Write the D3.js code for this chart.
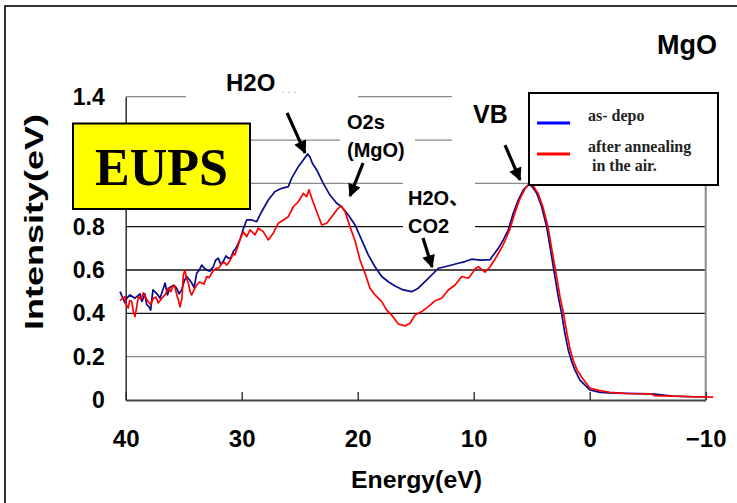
<!DOCTYPE html>
<html><head><meta charset="utf-8">
<script src="https://cdn.jsdelivr.net/npm/d3@7"></script>
<style>body{margin:0;background:#fff}svg{display:block}</style>
</head><body>
<svg id="c" width="737" height="503"></svg>
<script>
// ---------- data ----------
const blueEnergy = [40.49,40.06,39.90,39.63,39.20,38.77,38.60,38.35,38.19,37.99,37.85,37.65,37.30,37.04,36.85,36.61,36.40,36.18,35.85,35.60,35.40,35.17,34.95,34.74,34.50,34.31,34.10,33.88,33.65,33.45,33.25,33.02,32.75,32.45,32.25,32.02,31.80,31.59,31.35,31.16,30.95,30.72,30.50,30.29,30.15,29.86,29.57,29.14,28.71,28.28,27.71,27.13,26.55,25.98,25.69,25.12,24.69,24.31,24.10,23.91,23.53,22.97,22.39,21.81,21.38,20.81,20.23,19.66,19.09,18.51,17.93,17.36,16.78,16.07,15.34,14.78,14.20,13.62,13.05,12.47,11.90,11.33,10.75,10.17,9.46,8.59,7.88,7.45,7.02,6.59,6.16,5.72,5.29,5.00,4.57,4.14,3.71,3.28,3.00,2.71,2.42,2.14,1.85,1.55,1.27,0.84,-0.03,-0.89,-1.75,-3.05,-5.37,-7.18,-8.91,-10.03];
const blueIntensity = [0.50,0.448,0.47,0.485,0.47,0.49,0.455,0.49,0.44,0.43,0.415,0.508,0.49,0.47,0.50,0.54,0.485,0.52,0.53,0.515,0.49,0.508,0.55,0.57,0.555,0.54,0.52,0.585,0.60,0.623,0.61,0.60,0.595,0.615,0.645,0.655,0.625,0.64,0.665,0.655,0.655,0.685,0.70,0.724,0.74,0.79,0.831,0.831,0.823,0.869,0.923,0.962,0.977,0.985,1.024,1.077,1.108,1.136,1.12,1.093,1.062,1.0,0.946,0.908,0.892,0.854,0.808,0.739,0.67,0.615,0.57,0.546,0.526,0.508,0.50,0.516,0.546,0.577,0.608,0.615,0.623,0.631,0.639,0.65,0.646,0.648,0.70,0.739,0.785,0.862,0.923,0.97,0.993,0.988,0.954,0.892,0.80,0.662,0.57,0.477,0.40,0.308,0.231,0.177,0.138,0.092,0.046,0.035,0.033,0.031,0.028,0.018,0.015,0.015];

const redEnergy = [40.49,40.06,39.95,39.78,39.65,39.48,39.35,39.20,39.05,38.91,38.70,38.48,38.25,38.05,37.85,37.62,37.40,37.19,36.95,36.76,36.55,36.33,36.10,35.90,35.75,35.60,35.45,35.32,35.15,35.03,34.89,34.75,34.60,34.45,34.31,34.10,33.88,33.65,33.45,33.25,33.02,32.80,32.59,32.40,32.16,31.95,31.72,31.50,31.29,31.05,30.86,30.70,30.58,30.15,29.86,29.57,29.28,28.85,28.57,28.14,27.71,27.28,26.84,26.41,25.98,25.55,25.12,24.69,24.40,24.20,23.91,23.53,23.10,22.67,22.24,21.81,21.44,21.09,20.66,20.23,19.80,19.37,18.94,18.51,17.93,17.50,17.07,16.50,15.92,15.49,15.06,14.48,13.91,13.34,12.76,12.19,11.61,11.03,10.46,10.03,9.89,9.60,9.31,9.03,8.59,8.16,7.73,7.30,6.87,6.44,6.01,5.58,5.23,4.89,4.46,4.03,3.60,3.17,2.86,2.56,2.26,1.96,1.70,1.40,1.10,0.66,-0.03,-0.89,-1.75,-3.19,-5.34,-5.63,-7.18,-8.91,-10.64];
const redIntensity = [0.46,0.477,0.44,0.425,0.46,0.454,0.41,0.385,0.43,0.477,0.465,0.494,0.47,0.454,0.44,0.47,0.475,0.448,0.465,0.477,0.49,0.517,0.50,0.53,0.52,0.485,0.46,0.43,0.47,0.577,0.60,0.56,0.54,0.50,0.485,0.51,0.53,0.545,0.54,0.535,0.57,0.565,0.585,0.60,0.608,0.61,0.63,0.635,0.623,0.64,0.66,0.675,0.67,0.739,0.777,0.754,0.785,0.762,0.793,0.777,0.739,0.77,0.816,0.831,0.846,0.892,0.915,0.954,0.939,0.97,0.923,0.869,0.808,0.816,0.846,0.877,0.896,0.869,0.80,0.735,0.646,0.585,0.516,0.485,0.454,0.415,0.392,0.351,0.342,0.354,0.392,0.408,0.431,0.458,0.47,0.508,0.531,0.57,0.562,0.592,0.605,0.615,0.603,0.59,0.615,0.65,0.69,0.735,0.79,0.865,0.93,0.975,0.995,0.99,0.955,0.89,0.80,0.665,0.57,0.477,0.40,0.308,0.235,0.18,0.14,0.103,0.054,0.043,0.035,0.03,0.028,0.02,0.018,0.015,0.013];

const energyTicks = [40,30,20,10,0,-10];
const energyTickLabels = ["40","30","20","10","0","\u221210"];
const intensityTicks = [0,0.2,0.4,0.6,0.8,1.0,1.2,1.4];
const intensityTickLabels = ["0","0.2","0.4","0.6","0.8","1","1.2","1.4"];
const seriesNames = ["as- depo","after annealing"];

// ---------- drawing ----------
const svg = d3.select("#c");
const SANS = "'Liberation Sans', Arial, 'Noto Sans CJK JP', sans-serif";
const SERIF = "'Liberation Serif', 'Times New Roman', serif";
svg.append("rect").attr("width",737).attr("height",503).attr("fill","#fff");
svg.append("rect").attr("x",5).attr("y",6).attr("width",760).attr("height",520)
   .attr("fill","none").attr("stroke","#000").attr("stroke-width",1.6);

const x = d3.scaleLinear().domain([40,-10]).range([125.7,705.7]);
const y = d3.scaleLinear().domain([0,1.4]).range([400,96.7]);

// gridlines
svg.append("g").selectAll("line").data(intensityTicks.filter(v=>v>0)).join("line")
  .attr("x1",x(40)).attr("x2",x(-10)).attr("y1",d=>y(d)).attr("y2",d=>y(d))
  .attr("stroke",d=>(d>0.3&&d<0.9)?"#111":"#8a8a8a").attr("stroke-width",1.3);

// right frame line
svg.append("line").attr("x1",x(-10)).attr("x2",x(-10)).attr("y1",y(1.4)).attr("y2",y(0))
  .attr("stroke","#8a8a8a").attr("stroke-width",2);

// axes
const xAxis = d3.axisBottom(x).tickValues(energyTicks).tickFormat((d,i)=>energyTickLabels[i])
  .tickSizeInner(-8).tickSizeOuter(0).tickPadding(30);
const gx = svg.append("g").attr("transform",`translate(0,${y(0)})`).call(xAxis);
gx.select(".domain").attr("stroke","#444").attr("stroke-width",2.2);
gx.selectAll(".tick line").attr("stroke","#222").attr("stroke-width",1.3);
gx.selectAll(".tick text").attr("font-family",SANS).attr("font-weight","bold")
  .attr("font-size",24).attr("fill","#000");

const yAxis = d3.axisLeft(y).tickValues(intensityTicks).tickFormat((d,i)=>intensityTickLabels[i])
  .tickSize(0).tickPadding(21);
const gy = svg.append("g").attr("transform",`translate(${x(40)},0)`).call(yAxis);
gy.select(".domain").attr("stroke","#222").attr("stroke-width",1.4);
gy.selectAll(".tick text").attr("font-family",SANS).attr("font-weight","bold")
  .attr("font-size",23).attr("fill","#000");
// labels 1 and 1.2 sit completely behind the EUPS box in the reference
gy.selectAll(".tick").filter(d=>d>0.9&&d<1.3).select("text").remove();

// white label backgrounds that interrupt the grid
[[186,62,172,43],[340,101,75,67],[452,86,77,84],[403,172,72,68]].forEach(b=>{
  svg.append("rect").attr("x",b[0]).attr("y",b[1]).attr("width",b[2]).attr("height",b[3]).attr("fill","#fff");
});

// EUPS box
svg.append("rect").attr("x",73).attr("y",123.5).attr("width",177).attr("height",85.5)
  .attr("fill","#ffff00").attr("stroke","#000").attr("stroke-width",2);
svg.append("text").attr("x",161.5).attr("y",184.5).attr("text-anchor","middle")
  .attr("font-family",SERIF).attr("font-weight","bold").attr("font-size",52).text("EUPS");

// curves
const line = d3.line().x(d=>x(d[0])).y(d=>y(d[1]));
svg.append("path").datum(blueEnergy.map((e,i)=>[e,blueIntensity[i]]))
  .attr("d",line).attr("fill","none").attr("stroke","#0a0a8c").attr("stroke-width",1.7).attr("stroke-linejoin","round");
svg.append("path").datum(redEnergy.map((e,i)=>[e,redIntensity[i]]))
  .attr("d",line).attr("fill","none").attr("stroke","#ff0000").attr("stroke-width",1.7).attr("stroke-linejoin","round");

// arrows (data coordinates)
const defs = svg.append("defs");
defs.append("marker").attr("id","ah").attr("viewBox","0 0 10 10").attr("refX",9).attr("refY",5)
  .attr("markerUnits","userSpaceOnUse").attr("markerWidth",15).attr("markerHeight",13).attr("orient","auto")
  .append("path").attr("d","M0,0 L10,5 L0,10 Z").attr("fill","#000");
const arrows = [[26.09,1.325,24.54,1.141],[19.54,1.094,20.66,0.942],[7.30,1.177,6.01,1.016],[14.37,0.748,13.59,0.614]];
svg.append("g").selectAll("line").data(arrows).join("line")
  .attr("x1",d=>x(d[0])).attr("y1",d=>y(d[1])).attr("x2",d=>x(d[2])).attr("y2",d=>y(d[3]))
  .attr("stroke","#000").attr("stroke-width",3.2).attr("marker-end","url(#ah)");

// annotation texts
const ann = [
  ["H2O",226,90.7,24],["O2s",347,128.5,20],["(MgO)",347,157,20],
  ["VB",473,122.5,25],["H2O\u3001",408,205,20],["CO2",408,232.5,20],["MgO",657,53.5,27]
];
ann.forEach(a=>{
  svg.append("text").attr("x",a[1]).attr("y",a[2]).attr("font-family",SANS)
    .attr("font-weight","bold").attr("font-size",a[3]).text(a[0]);
});
svg.append("text").attr("x",282).attr("y",93).attr("font-family",SANS).attr("font-size",10)
  .attr("fill","#999").attr("letter-spacing",3).text("...");

// axis titles
svg.append("text").attr("x",351).attr("y",488).attr("font-family",SANS).attr("font-weight","bold")
  .attr("font-size",24).attr("textLength",131).attr("lengthAdjust","spacingAndGlyphs").text("Energy(eV)");
svg.append("text").attr("transform","translate(43,330) rotate(-90)").attr("font-family",SANS)
  .attr("font-weight","bold").attr("font-size",25).attr("textLength",216).attr("lengthAdjust","spacingAndGlyphs")
  .text("Intensity(eV)");

// legend
const lg = svg.append("g");
lg.append("rect").attr("x",529).attr("y",93).attr("width",189).attr("height",92)
  .attr("fill","#fff").attr("stroke","#000").attr("stroke-width",2);
lg.append("line").attr("x1",537).attr("x2",570).attr("y1",123).attr("y2",123).attr("stroke","#0000ff").attr("stroke-width",3);
lg.append("line").attr("x1",537).attr("x2",570).attr("y1",154).attr("y2",154).attr("stroke","#ff0000").attr("stroke-width",3);
lg.append("text").attr("x",588).attr("y",121).attr("font-family",SERIF).attr("font-weight","bold")
  .attr("font-size",16).attr("fill","#222").text(seriesNames[0]);
lg.append("text").attr("x",588).attr("y",152).attr("font-family",SERIF).attr("font-weight","bold")
  .attr("font-size",16).attr("fill","#222").text(seriesNames[1]);
lg.append("text").attr("x",592).attr("y",171).attr("font-family",SERIF).attr("font-weight","bold")
  .attr("font-size",16).attr("fill","#222").text("in the air.");
</script>
</body></html>
